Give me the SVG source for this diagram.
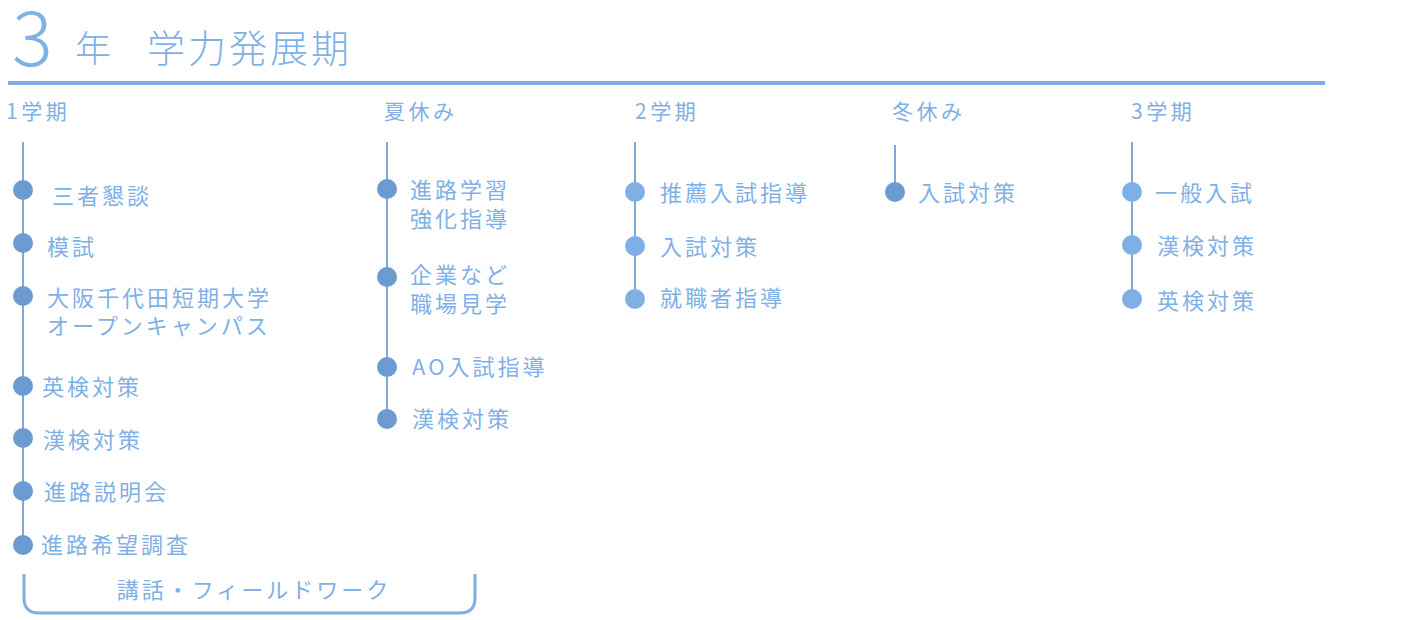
<svg xmlns="http://www.w3.org/2000/svg" width="1401" height="620" viewBox="0 0 1401 620">
<style>
text{font-family:"Noto Sans CJK JP","Noto Sans",sans-serif;fill:#7fb0e6;font-weight:400}
.t{font-size:22px;letter-spacing:3px}
.h{font-size:21px;letter-spacing:3.5px}
.ln{stroke:#7ea8d8;stroke-width:2;fill:none}
.d1{fill:#6b9bd0}
.d2{fill:#7eb0e6}
</style>
<rect width="1401" height="620" fill="#fff"/>
<g id="title">
<text x="12" y="66" style="font-size:76px;font-weight:200">3</text>
<text x="75" y="62" style="font-size:36px;font-weight:300">年</text>
<text x="147" y="62" style="font-size:38px;letter-spacing:3px;font-weight:300">学力発展期</text>
<rect x="8" y="81" width="1317" height="4" fill="#7eaee4"/>
</g>
<g id="connectors">
<line class="ln" x1="23" y1="142" x2="23" y2="545"/>
<line class="ln" x1="387" y1="142" x2="387" y2="419"/>
<line class="ln" x1="635" y1="142" x2="635" y2="299"/>
<line class="ln" x1="895" y1="145" x2="895" y2="192"/>
<line class="ln" x1="1132" y1="142" x2="1132" y2="299"/>
<path class="ln" style="stroke:#7eaee4;stroke-width:3" d="M24 574 V598 Q24 613 39 613 H460 Q475 613 475 598 V574"/>
</g>
<g id="col1">
<text class="h" x="6" y="119">1学期</text>
<circle class="d1" cx="23" cy="190" r="10"/><text class="t" x="52" y="204">三者懇談</text>
<circle class="d1" cx="23" cy="243" r="10"/><text class="t" x="47" y="255">模試</text>
<circle class="d1" cx="23" cy="296" r="10"/><text class="t" x="47" y="306">大阪千代田短期大学</text><text class="t" x="47" y="334">オープンキャンパス</text>
<circle class="d1" cx="23" cy="386" r="10"/><text class="t" x="42" y="395">英検対策</text>
<circle class="d1" cx="23" cy="438" r="10"/><text class="t" x="43" y="448">漢検対策</text>
<circle class="d1" cx="23" cy="491" r="10"/><text class="t" x="44" y="500">進路説明会</text>
<circle class="d1" cx="23" cy="545" r="10"/><text class="t" x="41" y="553">進路希望調査</text>
</g>
<g id="note">
<text class="t" x="254" y="598" text-anchor="middle">講話・フィールドワーク</text>
</g>
<g id="col2">
<text class="h" x="384" y="119">夏休み</text>
<circle class="d1" cx="387" cy="189" r="10"/><text class="t" x="410" y="198">進路学習</text><text class="t" x="410" y="227">強化指導</text>
<circle class="d1" cx="387" cy="277" r="10"/><text class="t" x="410" y="283">企業など</text><text class="t" x="410" y="312">職場見学</text>
<circle class="d1" cx="387" cy="367" r="10"/><text class="t" x="412" y="375">AO入試指導</text>
<circle class="d1" cx="387" cy="419" r="10"/><text class="t" x="412" y="427">漢検対策</text>
</g>
<g id="col3">
<text class="h" x="635" y="119">2学期</text>
<circle class="d2" cx="635" cy="192" r="10"/><text class="t" x="660" y="201">推薦入試指導</text>
<circle class="d2" cx="635" cy="246" r="10"/><text class="t" x="660" y="255">入試対策</text>
<circle class="d2" cx="635" cy="299" r="10"/><text class="t" x="660" y="306">就職者指導</text>
</g>
<g id="col4">
<text class="h" x="892" y="119">冬休み</text>
<circle class="d1" cx="895" cy="192" r="10"/><text class="t" x="918" y="201">入試対策</text>
</g>
<g id="col5">
<text class="h" x="1131" y="119">3学期</text>
<circle class="d2" cx="1132" cy="192" r="10"/><text class="t" x="1155" y="201">一般入試</text>
<circle class="d2" cx="1132" cy="245" r="10"/><text class="t" x="1157" y="254">漢検対策</text>
<circle class="d2" cx="1132" cy="299" r="10"/><text class="t" x="1157" y="309">英検対策</text>
</g>
</svg>
